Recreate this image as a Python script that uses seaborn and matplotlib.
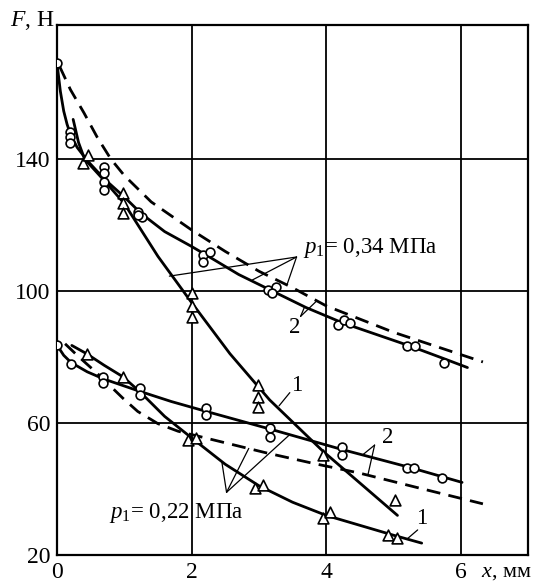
import matplotlib
matplotlib.use("Agg")
import matplotlib.pyplot as plt
import seaborn as sns
import pandas as pd

# ---------------- data ----------------
# p1 = 0.34 MPa, curve 2 (circles, solid)
up2_x = [0, 0.05, 0.1, 0.15, 0.2, 0.3, 0.45, 0.7, 1.0, 1.25, 1.6, 2.0, 2.25, 2.7, 3.2, 3.7, 4.25, 4.75, 5.25, 5.75, 6.1]
up2_y = [169, 160.5, 154.5, 150.5, 147.5, 143.5, 139.5, 134, 128.5, 123.5, 118, 113.5, 110.5, 105, 100, 95, 90.3, 86.8, 83.3, 79.5, 76.8]
# p1 = 0.34 MPa, curve 1 (triangles, solid)
up1_x = [0.24, 0.32, 0.41, 0.7, 1.0, 1.5, 2.0, 2.57, 3.16, 3.95, 5.06]
up1_y = [152, 145, 140, 133.5, 126.5, 110.5, 96.5, 81, 67, 51.5, 32]
# p1 = 0.34 MPa, dashed curve
upd_x = [0.04, 0.2, 0.4, 0.6, 0.8, 1.0, 1.4, 2.0, 2.5, 3.0, 3.5, 4.0, 5.0, 6.33]
upd_y = [168, 161, 154, 146.5, 140, 135, 127, 118.5, 112, 106, 101, 95.5, 87.5, 78.5]
# p1 = 0.22 MPa, curve 2 (circles, solid)
lo2_x = [0, 0.1, 0.21, 0.45, 0.7, 1.23, 1.7, 2.22, 3.16, 4.23, 5.25, 6.02]
lo2_y = [83.6, 80.5, 78.3, 75.5, 73.3, 69.6, 66.5, 63.5, 58.2, 52, 46.5, 42]
# p1 = 0.22 MPa, curve 1 (triangles, solid)
lo1_x = [0.22, 0.44, 0.7, 0.98, 1.23, 1.6, 2.0, 2.5, 3.0, 3.5, 4.0, 4.5, 5.0, 5.42]
lo1_y = [83.5, 81, 77.5, 74, 69.5, 62, 55.5, 47.5, 41, 36, 32, 29, 26, 23.6]
# p1 = 0.22 MPa, dashed curve
lod_x = [0.12, 0.3, 0.6, 0.98, 1.2, 1.5, 1.8, 2.2, 2.6, 3.1, 3.8, 4.5, 5.4, 6.33]
lod_y = [84, 80.5, 75, 67.5, 63.5, 59.8, 57.5, 55.5, 53.5, 51, 47.8, 44.8, 40.2, 35.5]

# experimental points
circ_x = [0, 0.2, 0.2, 0.2, 0.7, 0.7, 0.7, 0.7, 1.2, 1.27, 1.2, 2.17, 2.27, 2.17, 3.13, 3.26, 3.2,
          4.17, 4.27, 4.35, 5.2, 5.32, 5.75,
          0, 0.21, 0.69, 0.69, 1.23, 1.23, 2.22, 2.22, 3.16, 3.16, 4.23, 4.23, 5.2, 5.3, 5.72]
circ_y = [169, 148.2, 146.7, 144.8, 137.6, 135.8, 133, 130.6, 124, 122.4, 123, 111, 111.8, 108.8, 100.3, 101.2, 99.4,
          89.7, 91.2, 90.3, 83.3, 83.3, 78.2,
          83.6, 78, 74, 72, 70.6, 68.5, 64.5, 62.4, 58.5, 55.8, 52.7, 50.3, 46.4, 46.4, 43.3]
tri_x = [0.38, 0.46, 0.98, 0.98, 0.98, 2.0, 2.0, 2.0, 2.98, 2.98, 2.98, 3.95, 5.02,
         0.44, 0.98, 1.95, 2.07, 2.94, 3.06, 3.96, 4.06, 4.92, 5.06]
tri_y = [138.8, 141.2, 129.7, 126.7, 123.6, 99.4, 95.5, 92.1, 71.5, 67.9, 64.8, 50.3, 36.7,
         81, 74, 54.8, 55.5, 40.3, 41.2, 31.2, 33, 26, 25.2]

x_ticks = [0, 2, 4, 6]
y_ticks = [20, 60, 100, 140]

# ---------------- style ----------------
sns.set_theme(style="white")
plt.rcParams["font.family"] = ["Liberation Serif", "DejaVu Serif"]
plt.rcParams["mathtext.fontset"] = "custom"
plt.rcParams["mathtext.rm"] = "Liberation Serif"
plt.rcParams["mathtext.it"] = "Liberation Serif:italic"
plt.rcParams["mathtext.bf"] = "Liberation Serif:bold"
plt.rcParams["text.color"] = "black"

fig = plt.figure(figsize=(5.37, 5.84), dpi=100)
ax = fig.add_axes([57 / 537, 29 / 584, 471 / 537, 530 / 584])

LW = 2.0
solid = [(up2_x, up2_y), (up1_x, up1_y), (lo2_x, lo2_y), (lo1_x, lo1_y)]
dashed = [(upd_x, upd_y), (lod_x, lod_y)]
for xs, ys in solid:
    sns.lineplot(x=xs, y=ys, ax=ax, sort=False, estimator=None, color="black", lw=LW, zorder=3)
for xs, ys in dashed:
    l = sns.lineplot(x=xs, y=ys, ax=ax, sort=False, estimator=None, color="black", lw=LW, zorder=3)
    l.lines[-1].set_dashes((5, 3))

sns.scatterplot(x=circ_x, y=circ_y, ax=ax, marker="o", s=40,
                facecolor="white", edgecolor="black", linewidth=1.2, zorder=5)
sns.scatterplot(x=tri_x, y=tri_y, ax=ax, marker="^", s=60,
                facecolor="white", edgecolor="black", linewidth=1.2, zorder=5)

# axes
ax.set_xlim(0, 7)
ax.set_ylim(20, 180.6)
ax.set_xticks(x_ticks)
ax.set_yticks(y_ticks)
ax.set_xticklabels([str(v) for v in x_ticks])
ax.set_yticklabels([str(v) for v in y_ticks])
ax.tick_params(axis="both", length=0, labelsize=17, colors="black")
ax.tick_params(axis="x", pad=5)
ax.tick_params(axis="y", pad=5)
ax.grid(True, color="black", lw=1.3)
ax.set_axisbelow(True)
for sp in ax.spines.values():
    sp.set_color("black")
    sp.set_linewidth(1.6)
ax.set_xlabel("")
ax.set_ylabel("")

fig.text(10 / 537, 1 - 20 / 584, r"$F$, Н", fontsize=17, va="center", ha="left", color="black")
fig.text(481 / 537, 1 - 572 / 584, r"$x$, мм", fontsize=16, va="center", ha="left", color="black")

# annotations
FS = 16.5
ax.text(3.65, 113, r"$p_1$= 0,34 МПа", fontsize=FS, ha="left", va="center")
ax.text(0.78, 32.7, r"$p_1$= 0,22 МПа", fontsize=FS, ha="left", va="center")
ax.text(3.53, 89, "2", fontsize=FS, ha="center", va="center")
ax.text(3.56, 71.5, "1", fontsize=FS, ha="center", va="center")
ax.text(4.92, 55.5, "2", fontsize=FS, ha="center", va="center")
ax.text(5.42, 31, "1", fontsize=FS, ha="center", va="center")

leaders = [
    ((3.56, 110.3), (1.67, 104.5)),
    ((3.56, 110.3), (2.9, 103.3)),
    ((3.56, 110.3), (3.42, 102.0)),
    ((3.62, 92.3), (3.68, 95.2)),
    ((3.62, 92.3), (3.85, 96.8)),
    ((3.46, 69.2), (3.3, 65.2)),
    ((4.72, 53.3), (4.54, 50.3)),
    ((4.72, 53.3), (4.62, 44.2)),
    ((5.36, 27.6), (5.2, 24.8)),
    ((2.52, 39.0), (2.45, 48.2)),
    ((2.52, 39.0), (2.85, 52.3)),
    ((2.52, 39.0), (3.46, 56.5)),
]
for (x0, y0), (x1, y1) in leaders:
    ax.plot([x0, x1], [y0, y1], color="black", lw=0.9, zorder=4)

fig.savefig("out.png", dpi=100)
